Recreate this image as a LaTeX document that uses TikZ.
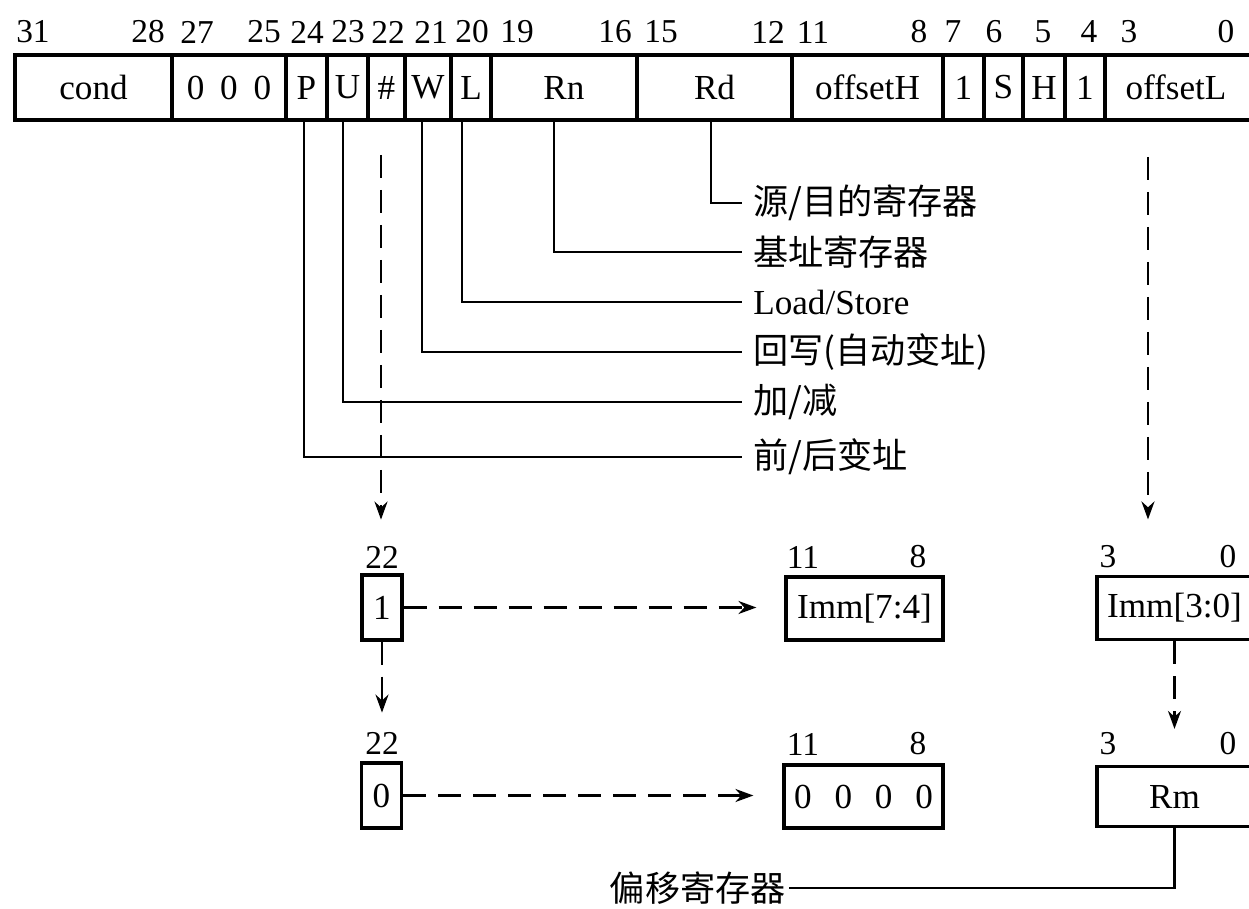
\documentclass[tikz,border=0pt]{standalone}
\usepackage{fontspec}
\setmainfont{Liberation Serif}
\newfontfamily\cjk{Noto Sans CJK SC}
\usetikzlibrary{arrows.meta,calc}
\begin{document}
\begin{tikzpicture}[x=0.02cm,y=-0.02cm,
  fld/.style={draw, line width=1.8pt, inner sep=0pt, minimum height=1.3cm, font=\fontsize{20}{24}\selectfont},
  sbox/.style={draw, line width=1.8pt, inner sep=0pt, minimum height=1.26cm, font=\fontsize{20}{24}\selectfont},
  bitno/.style={inner sep=0pt, font=\fontsize{19}{22}\selectfont},
  lbl/.style={anchor=west, inner sep=0pt, font=\fontsize{20}{24}\selectfont},
  leader/.style={line width=1.6pt},
  dline/.style={line width=1.4pt, dash pattern=on 0.46cm off 0.24cm},
  tip/.style={-{Stealth[length=0.36cm,width=0.26cm]}}
]
\useasboundingbox (0,0) rectangle (1249,909);

% register fields
\node[fld, minimum width=3.14cm] (cond) at (93.5,87.5) {cond};
\node[fld, minimum width=2.28cm] (zero3) at (229,87.5) {0\hspace{9pt}0\hspace{9pt}0};
\node[fld, minimum width=0.82cm] (P) at (306.5,87.5) {P};
\node[fld, minimum width=0.82cm] (U) at (347.5,87.5) {U};
\node[fld, minimum width=0.74cm] (hash) at (386.5,87.5) {\#};
\node[fld, minimum width=0.92cm] (W) at (428,87.5) {W};
\node[fld, minimum width=0.80cm] (L) at (471,87.5) {L};
\node[fld, minimum width=2.92cm] (Rn) at (564,87.5) {Rn};
\node[fld, minimum width=3.10cm] (Rd) at (714.5,87.5) {Rd};
\node[fld, minimum width=3.02cm] (offH) at (867.5,87.5) {offsetH};
\node[fld, minimum width=0.82cm] (one1) at (963.5,87.5) {1};
\node[fld, minimum width=0.78cm] (S) at (1003.5,87.5) {S};
\node[fld, minimum width=0.84cm] (H) at (1044,87.5) {H};
\node[fld, minimum width=0.80cm] (one2) at (1085,87.5) {1};
\node[fld, minimum width=3.00cm] (offL) at (1180,87.5) {};
\node[inner sep=0pt, font=\fontsize{20}{24}\selectfont] (offLt) at (1176,87.5) {offsetL};

% bit numbers
\node[bitno] (b31) at (33,32) {31};
\node[bitno] (b28) at (148,32) {28};
\node[bitno] (b27) at (197,32) {27};
\node[bitno] (b25) at (264,32) {25};
\node[bitno] (b24) at (307,32) {24};
\node[bitno] (b23) at (348,32) {23};
\node[bitno] (b22) at (388,32) {22};
\node[bitno] (b21) at (431,32) {21};
\node[bitno] (b20) at (472,32) {20};
\node[bitno] (b19) at (517,32) {19};
\node[bitno] (b16) at (615,32) {16};
\node[bitno] (b15) at (661,32) {15};
\node[bitno] (b12) at (768,32) {12};
\node[bitno] (b11) at (813,32) {11};
\node[bitno] (b8) at (919,32) {8};
\node[bitno] (b7) at (953,32) {7};
\node[bitno] (b6) at (994,32) {6};
\node[bitno] (b5) at (1043,32) {5};
\node[bitno] (b4) at (1089,32) {4};
\node[bitno] (b3) at (1129,32) {3};
\node[bitno] (b0) at (1226,32) {0};

% leader labels
\node[lbl] (lRd) at (753,203) {\cjk 源/目的寄存器};
\node[lbl] (lRn) at (753,252) {\cjk 基址寄存器};
\node[lbl] (lL) at (753,302) {Load/Store};
\node[lbl] (lW) at (753,352) {\cjk 回写(自动变址)};
\node[lbl] (lU) at (753,402) {\cjk 加/减};
\node[lbl] (lP) at (753,457) {\cjk 前/后变址};

\draw[leader] ([xshift=-2pt]Rd.south) |- ([xshift=-0.22cm]lRd.west);
\draw[leader] ([xshift=-0.2cm]Rn.south) |- ([xshift=-0.22cm]lRn.west);
\draw[leader] ([xshift=-0.18cm]L.south) |- ([xshift=-0.22cm]lL.west);
\draw[leader] ([xshift=-0.12cm]W.south) |- ([xshift=-0.22cm]lW.west);
\draw[leader] ([xshift=-0.09cm]U.south) |- ([xshift=-0.22cm]lU.west);
\draw[leader] ([xshift=-0.05cm]P.south) |- ([xshift=-0.22cm]lP.west);

% lower boxes
\node[bitno] (n22a) at (382,557) {22};
\node[fld, minimum width=0.8cm] (bone) at (382,607.5) {1};
\node[bitno] (n22b) at (382,743) {22};
\node[fld, minimum width=0.8cm] (bzero) at (381.5,795.5) {0};

\node[bitno] (n11a) at (803,557) {11};
\node[bitno] (n8a) at (918,557) {8};
\node[sbox, minimum width=3.14cm] (imm74) at (864.5,608.5) {Imm[7:4]};
\node[bitno] (n11b) at (803,744) {11};
\node[bitno] (n8b) at (918,744) {8};
\node[sbox, minimum width=3.18cm] (z4) at (863.5,796.5) {0\hspace{13pt}0\hspace{13pt}0\hspace{13pt}0};

\node[bitno] (n3a) at (1108,557) {3};
\node[bitno] (n0a) at (1228,557) {0};
\node[sbox, minimum width=3.1cm] (imm30) at (1174.5,608) {Imm[3:0]};
\node[bitno] (n3b) at (1108,744) {3};
\node[bitno] (n0b) at (1228,744) {0};
\node[sbox, minimum width=3.1cm, minimum height=1.2cm] (rm) at (1174.5,796.5) {Rm};

\node[anchor=east, inner sep=0pt, font=\fontsize{20}{24}\selectfont] (offlbl) at (786,888) {\cjk 偏移寄存器};

% dashed arrows
\coordinate (hs) at (381,155);
\draw[dline, tip, shorten >=0.52cm] (hs) -- (hs |- n22a.north);
\draw[dline, tip, shorten >=0.38cm] (bone.south) -- (n22b.north);
\draw[dline, tip, shorten >=0.56cm] (bone.east) -- (bone.east -| imm74.west);
\draw[dline, tip, shorten >=0.58cm] (bzero.east) -- (bzero.east -| z4.west);
\coordinate (os) at (1148,157);
\draw[dline, tip, shorten >=0.52cm] (os) -- (os |- n3a.north);
\draw[dline, tip, shorten >=0.72cm] (imm30.south) -- (rm.north);

% Rm leader
\draw[leader] (rm.south) |- ([xshift=0.05cm]offlbl.east);
\end{tikzpicture}
\end{document}
